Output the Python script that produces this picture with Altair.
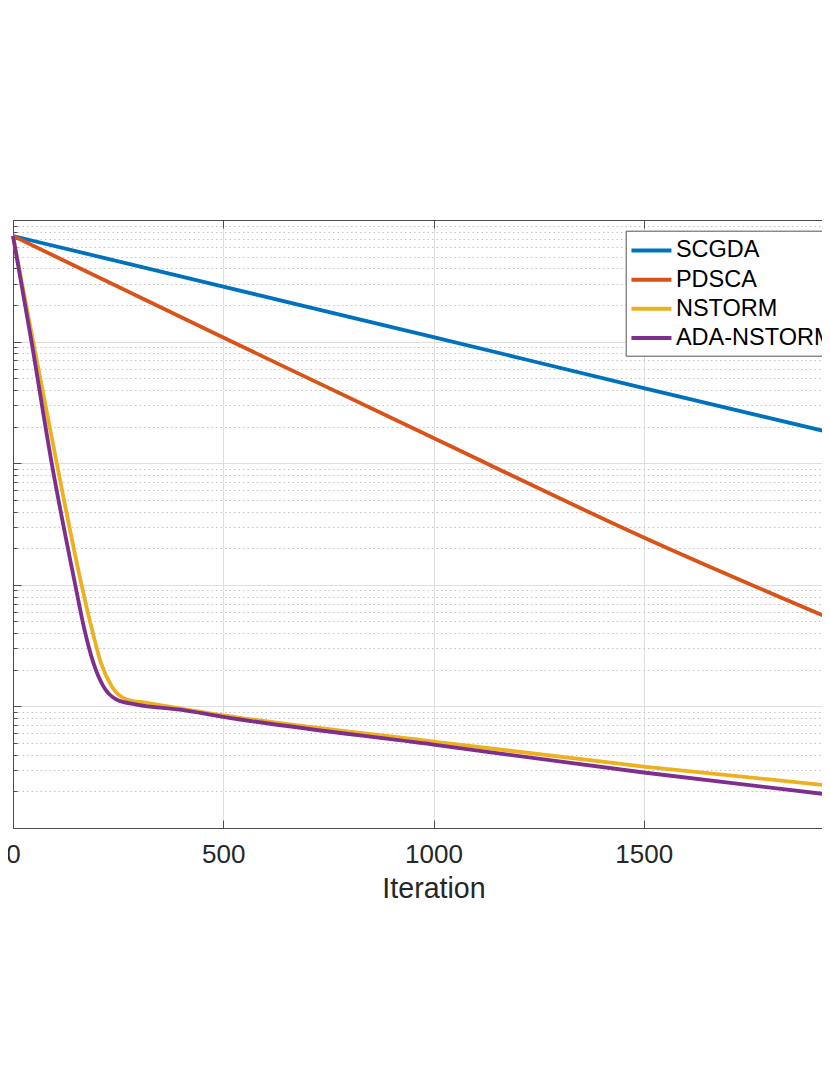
import altair as alt
import pandas as pd

# ---- data ----
series_names = ["SCGDA", "PDSCA", "NSTORM", "ADA-NSTORM"]
series_colors = ["#0072BD", "#D95319", "#EDB120", "#7E2F8E"]

scgda_iter = [0, 500, 1000, 1500, 2000]
scgda_val = [739, 283, 109, 41.4, 16.1]

pdsca_iter = [0, 500, 1000, 1500, 2000]
pdsca_val = [739, 108, 16.1, 2.45, 0.436]

nstorm_iter = [0, 48, 104, 163, 188, 209, 235, 271, 319, 500, 1000, 1500, 2000]
nstorm_val = [739, 100, 10, 1.0, 0.427, 0.229, 0.146, 0.114, 0.107,
              0.0845, 0.0514, 0.0320, 0.0213]

ada_iter = [0, 44, 92, 148, 170, 191, 215, 246, 294, 397, 500, 1000, 1500, 2000]
ada_val = [739, 100, 10, 1.0, 0.427, 0.229, 0.146, 0.114, 0.1035, 0.094,
           0.0820, 0.0485, 0.0286, 0.0178]

x_ticks = [0, 500, 1000, 1500, 2000]
y_major = [0.01, 0.1, 1, 10, 100, 1000]
y_minor = [m * 10.0 ** k for k in range(-2, 3) for m in range(2, 10)]

rows = []
for name, its, vals in [("SCGDA", scgda_iter, scgda_val),
                        ("PDSCA", pdsca_iter, pdsca_val),
                        ("NSTORM", nstorm_iter, nstorm_val),
                        ("ADA-NSTORM", ada_iter, ada_val)]:
    for i, v in zip(its, vals):
        rows.append({"series": name, "iter": i, "value": v})
df = pd.DataFrame(rows)

FONT = "Liberation Sans"
AX = "#4d4d4d"
TXT = "#262626"

xscale = alt.Scale(domain=[0, 2000], range=[0, 841], nice=False, zero=False)
yscale = alt.Scale(type="log", domain=[0.01, 1000], nice=False)

label_expr = ("round(log(datum.value)/LN10) == 3 ? '10³' : "
              "round(log(datum.value)/LN10) == 2 ? '10²' : "
              "round(log(datum.value)/LN10) == 1 ? '10¹' : "
              "round(log(datum.value)/LN10) == 0 ? '10⁰' : "
              "round(log(datum.value)/LN10) == -1 ? '10⁻¹' : '10⁻²'")

base = alt.Chart(df)

lines = base.mark_line(strokeWidth=3.8, interpolate="monotone").encode(
    x=alt.X("iter:Q", scale=xscale,
            axis=alt.Axis(orient="bottom", values=x_ticks, format="d", domain=True,
                          domainColor=AX, domainWidth=1, ticks=False, tickSize=0,
                          labels=True, labelFont=FONT, labelFontSize=26, labelColor=TXT,
                          labelPadding=13, labelFlush=False, labelOverlap=False,
                          grid=True, gridColor="#dedede", gridWidth=1,
                          title="Iteration", titleFont=FONT, titleFontSize=28.6,
                          titleFontWeight="normal", titleColor=TXT, titlePadding=7)),
    y=alt.Y("value:Q", scale=yscale,
            axis=alt.Axis(orient="left", values=y_major, domain=True, domainColor=AX,
                          domainWidth=1, ticks=False, tickSize=0, labelExpr=label_expr,
                          labelFont=FONT, labelFontSize=26, labelColor=TXT,
                          labelPadding=6, labelOverlap=False, grid=True,
                          gridColor="#dedede", gridWidth=1, title=None)),
    color=alt.Color("series:N", sort=series_names,
                    scale=alt.Scale(domain=series_names, range=series_colors),
                    legend=alt.Legend(title=None, orient="none", legendX=612.7, legendY=10.7,
                                      direction="vertical",
                                      symbolType="M-1.162,0H2.158",
                                      symbolSize=581, symbolStrokeWidth=4,
                                      labelFont=FONT, labelFontSize=23.5, labelColor="#000000",
                                      labelOffset=16, rowPadding=3.2, padding=5.25,
                                      strokeColor="#555555", fillColor="#ffffff",
                                      labelLimit=400)),
    detail="series:N",
)

inv1 = base.mark_line(strokeOpacity=0).encode(
    x=alt.X("iter:Q", scale=xscale,
            axis=alt.Axis(orient="bottom", offset=-8, values=x_ticks, domain=False,
                          labels=False, grid=False, ticks=True, tickSize=8,
                          tickColor=AX, tickWidth=1, title=None)),
    y=alt.Y("value:Q", scale=yscale,
            axis=alt.Axis(orient="left", offset=-8, values=y_major, domain=False,
                          labels=False, grid=False, ticks=True, tickSize=8,
                          tickColor=AX, tickWidth=1, title=None)),
    detail="series:N",
)

inv2 = base.mark_line(strokeOpacity=0).encode(
    x=alt.X("iter:Q", scale=xscale,
            axis=alt.Axis(orient="top", values=x_ticks, domain=True, domainColor=AX,
                          domainWidth=1, labels=False, grid=False, ticks=False,
                          tickSize=0, title=None)),
    y=alt.Y("value:Q", scale=yscale,
            axis=alt.Axis(orient="left", offset=-4, values=y_minor, domain=False,
                          labels=False, grid=True, gridColor="#c4c4c4", gridWidth=1,
                          gridDash=[1.5, 3], ticks=True, tickSize=4, tickColor=AX,
                          tickWidth=1, title=None)),
    detail="series:N",
)

inv3 = base.mark_line(strokeOpacity=0).encode(
    x=alt.X("iter:Q", scale=xscale,
            axis=alt.Axis(orient="top", offset=-8, values=x_ticks, domain=False,
                          labels=False, grid=False, ticks=True, tickSize=8,
                          tickColor=AX, tickWidth=1, title=None)),
    y=alt.Y("value:Q", scale=yscale, axis=None),
    detail="series:N",
)

chart = alt.layer(inv2, lines, inv1, inv3).resolve_axis(
    x="independent", y="independent"
).properties(
    width=809, height=608,
    autosize=alt.AutoSizeParams(type="none"),
    padding={"left": 5, "top": 212, "right": 0, "bottom": 140},
    background="#ffffff",
).configure_view(stroke=None)

chart.save("out.html", embed_options={"renderer": "svg", "actions": False})
